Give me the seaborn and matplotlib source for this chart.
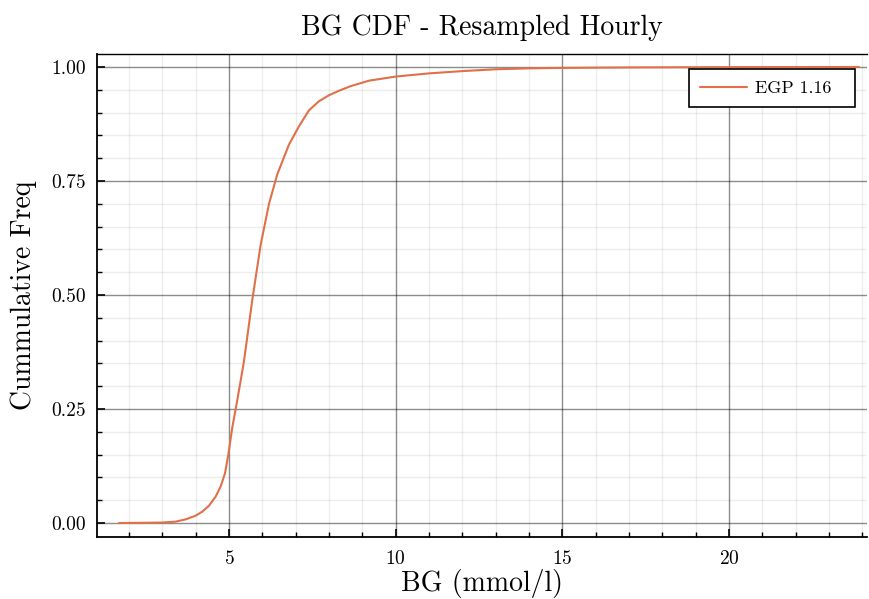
import numpy as np
import pandas as pd
import matplotlib
matplotlib.use("Agg")
import matplotlib.pyplot as plt
import seaborn as sns
from matplotlib.ticker import MultipleLocator, FormatStrFormatter

bg = [1.7, 2.5, 3.0, 3.4, 3.7, 4.0, 4.2, 4.4, 4.6, 4.75, 4.88, 4.98, 5.1, 5.25,
      5.45, 5.7, 5.95, 6.2, 6.45, 6.8, 7.1, 7.4, 7.7, 8.0, 8.3, 8.65, 9.2, 10.0,
      11.0, 12.0, 13.0, 14.0, 15.0, 17.0, 20.0, 23.9]
cdf = [0.0, 0.0005, 0.001, 0.003, 0.008, 0.016, 0.025, 0.038, 0.058, 0.08, 0.109,
       0.15, 0.21, 0.27, 0.355, 0.49, 0.61, 0.70, 0.765, 0.83, 0.87, 0.905, 0.925,
       0.938, 0.948, 0.958, 0.970, 0.979, 0.986, 0.991, 0.995, 0.997, 0.998, 0.999,
       0.9997, 1.0]
series_name = "EGP 1.16"
x_ticks = [5, 10, 15, 20]
y_ticks = [0.0, 0.25, 0.5, 0.75, 1.0]

df = pd.DataFrame({"BG": bg, "CDF": cdf, "series": series_name})

sns.set_theme(style="white")
plt.rcParams["font.family"] = ["cmr10", "DejaVu Serif"]
plt.rcParams["axes.formatter.use_mathtext"] = True
plt.rcParams["mathtext.fontset"] = "cm"
for k in ["text.color", "axes.labelcolor", "xtick.color", "ytick.color",
          "xtick.labelcolor", "ytick.labelcolor"]:
    plt.rcParams[k] = "black"

fig = plt.figure(figsize=(8.69, 5.99), dpi=100)
ax = fig.add_axes([97 / 869, 1 - 537 / 599, (867 - 97) / 869, (537 - 54) / 599])

sns.lineplot(data=df, x="BG", y="CDF", hue="series", palette=["#e0704a"],
             linewidth=1.5, ax=ax)

ax.set_xlim(1.04, 24.14)
ax.set_ylim(-0.0307, 1.0285)
ax.set_xticks(x_ticks)
ax.set_yticks(y_ticks)
ax.yaxis.set_major_formatter(FormatStrFormatter("%.2f"))
ax.xaxis.set_minor_locator(MultipleLocator(1))
ax.yaxis.set_minor_locator(MultipleLocator(0.05))

ax.grid(which="major", color="black", alpha=0.45, linewidth=1.0)
ax.grid(which="minor", color="black", alpha=0.07, linewidth=1.0)
ax.set_axisbelow(True)

for s in ["left", "bottom"]:
    ax.spines[s].set_color("black")
    ax.spines[s].set_linewidth(1.3)
ax.spines["top"].set_color("black")
ax.spines["top"].set_linewidth(1.0)
ax.spines["right"].set_visible(False)

ax.tick_params(which="major", direction="in", length=6, width=1.2, color="black",
               labelsize=14, left=True, bottom=True, top=False, right=False)
ax.tick_params(axis="y", which="major", pad=8)
ax.tick_params(axis="x", which="major", pad=9)
ax.tick_params(which="minor", direction="in", length=3.5, width=1.0, color="black",
               left=True, bottom=True, top=False, right=False)

ax.set_title("BG CDF - Resampled Hourly", fontsize=20, pad=14)
ax.set_xlabel("BG (mmol/l)", fontsize=20, labelpad=1)
ax.set_ylabel("Cummulative Freq", fontsize=20, labelpad=10)

leg = ax.legend(loc="upper left", mode="expand", fontsize=13, frameon=True,
                fancybox=False, edgecolor="black", framealpha=1.0,
                handlelength=2.6, handletextpad=0.45, borderpad=0.62,
                borderaxespad=0,
                bbox_to_anchor=(689 / 869, 1 - 108 / 599, 166 / 869, 39 / 599),
                bbox_transform=fig.transFigure)
leg.get_frame().set_linewidth(1.2)

fig.savefig("out.png", dpi=100)
